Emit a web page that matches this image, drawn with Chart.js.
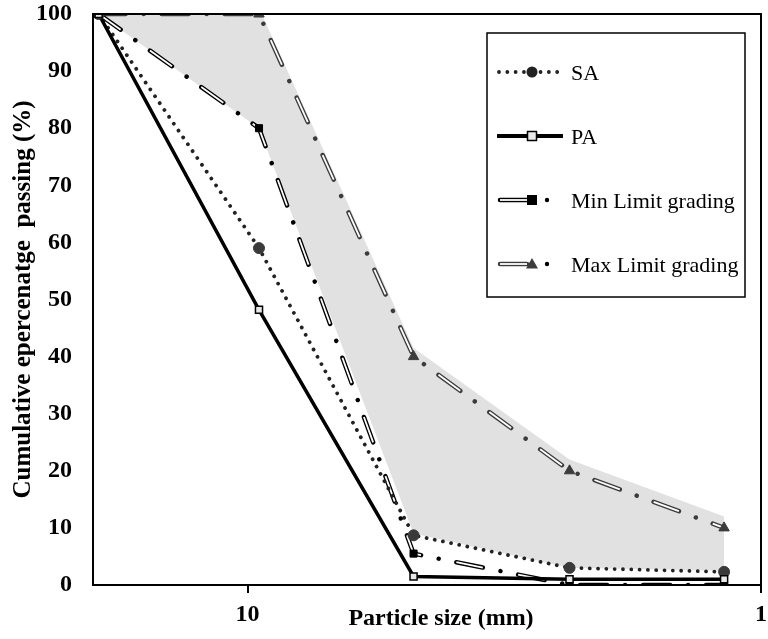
<!DOCTYPE html>
<html><head><meta charset="utf-8">
<script src="https://cdn.jsdelivr.net/npm/chart.js@4.4.0/dist/chart.umd.min.js"></script>
<style>html,body{margin:0;padding:0;background:#fff;}#wrap{width:768px;height:639px;position:relative;}</style>
</head><body><div id="wrap"><canvas id="c" width="768" height="639"></canvas></div>
<script>
const sizes = [19.5, 9.5, 4.75, 2.36, 1.18];
const saValues = [100, 59, 8.7, 3, 2.3];
const paValues = [100, 48.2, 1.5, 1, 1];
const minLimit = [100, 80, 5.5, 0, 0];
const maxLimit = [100, 100, 40, 20, 10];
const shadeUpper = [101, 101, 41.5, 22, 12];
const shadeLower = [100, 80, 9, 3, 2.5];
const xTicks = [10, 1];
const seriesNames = ['SA', 'PA', 'Min Limit grading', 'Max Limit grading'];
const xTitle = 'Particle size (mm)';
const yTitle = 'Cumulative epercenatge  passing (%)';

const FONT = 'Liberation Serif';
const pts = arr => sizes.map((x, i) => ({x: x, y: arr[i]}));
const DASH_OUT = [27, 18, 0.01, 18];
const DASH_IN = [27, 36.01];

const base = {pointRadius: 0, pointHoverRadius: 0, tension: 0, fill: false};

const datasets = [
  Object.assign({}, base, {label: 'shadeUpper', data: pts(shadeUpper), borderWidth: 0, borderColor: 'rgba(0,0,0,0)', backgroundColor: '#e1e1e1', fill: '+1', order: 100}),
  Object.assign({}, base, {label: 'shadeLower', data: pts(shadeLower), borderWidth: 0, borderColor: 'rgba(0,0,0,0)', order: 101}),
  // Max limit
  Object.assign({}, base, {label: seriesNames[3], data: pts(maxLimit), borderColor: '#3c3c3c', borderWidth: 4.5, borderDash: DASH_OUT, borderCapStyle: 'round', order: 60}),
  Object.assign({}, base, {label: seriesNames[3] + ' in', data: pts(maxLimit), borderColor: '#ffffff', borderWidth: 1.8, borderDash: DASH_IN, borderCapStyle: 'butt', order: 59}),
  // Min limit
  Object.assign({}, base, {label: seriesNames[2], data: pts(minLimit), borderColor: '#000', borderWidth: 4.5, borderDash: DASH_OUT, borderCapStyle: 'round', order: 58}),
  Object.assign({}, base, {label: seriesNames[2] + ' in', data: pts(minLimit), borderColor: '#ffffff', borderWidth: 1.8, borderDash: DASH_IN, borderCapStyle: 'butt', order: 57}),
  // SA
  Object.assign({}, base, {label: seriesNames[0], data: pts(saValues), borderColor: '#222', borderWidth: 3.8, borderDash: [0.01, 8.3], borderCapStyle: 'round', order: 56}),
  // PA
  Object.assign({}, base, {label: seriesNames[1], data: pts(paValues), borderColor: '#000', borderWidth: 3.5, order: 55}),
  // markers
  Object.assign({}, base, {label: 'max pts', data: pts(maxLimit), showLine: false, pointStyle: 'triangle', pointRadius: 6, backgroundColor: '#3c3c3c', borderColor: '#3c3c3c', pointBorderWidth: 1, order: 10}),
  Object.assign({}, base, {label: 'min pts', data: pts(minLimit), showLine: false, pointStyle: 'rect', pointRadius: 5, backgroundColor: '#000', borderColor: '#000', pointBorderWidth: 1, order: 9}),
  Object.assign({}, base, {label: 'sa pts', data: pts(saValues), showLine: false, pointStyle: 'circle', pointRadius: 5.5, backgroundColor: '#3a3a3a', borderColor: '#3a3a3a', pointBorderWidth: 1, order: 8}),
  Object.assign({}, base, {label: 'pa pts', data: pts(paValues), showLine: false, pointStyle: 'rect', pointRadius: 5, backgroundColor: '#e8e8e8', borderColor: '#000', pointBorderWidth: 1.5, order: 7})
];

function dotted(ctx, x1, x2, y, color, w, gap) {
  ctx.save(); ctx.strokeStyle = color; ctx.lineWidth = w; ctx.lineCap = 'round';
  ctx.setLineDash([0.01, gap]); ctx.beginPath(); ctx.moveTo(x1, y); ctx.lineTo(x2, y); ctx.stroke(); ctx.restore();
}
function hollow(ctx, x1, x2, y, color) {
  ctx.save(); ctx.lineCap = 'round'; ctx.strokeStyle = color; ctx.lineWidth = 4.5;
  ctx.beginPath(); ctx.moveTo(x1, y); ctx.lineTo(x2, y); ctx.stroke();
  ctx.lineCap = 'butt'; ctx.strokeStyle = '#fff'; ctx.lineWidth = 1.8;
  ctx.beginPath(); ctx.moveTo(x1, y); ctx.lineTo(x2, y); ctx.stroke(); ctx.restore();
}
function dot(ctx, x, y, r, color) {
  ctx.save(); ctx.fillStyle = color; ctx.beginPath(); ctx.arc(x, y, r, 0, Math.PI * 2); ctx.fill(); ctx.restore();
}

const decor = {
  id: 'decor',
  afterDraw(chart) {
    const ctx = chart.ctx, a = chart.chartArea;
    ctx.save();
    ctx.strokeStyle = '#000'; ctx.lineWidth = 2;
    ctx.strokeRect(a.left, a.top, a.right - a.left, a.bottom - a.top);
    // x title
    ctx.fillStyle = '#000'; ctx.font = 'bold 24px "' + FONT + '"';
    ctx.textAlign = 'center'; ctx.textBaseline = 'middle';
    ctx.fillText(xTitle, 441, 619);
    // legend box
    ctx.fillStyle = '#fff'; ctx.fillRect(487, 33, 258, 264);
    ctx.lineWidth = 1.5; ctx.strokeStyle = '#000'; ctx.strokeRect(487, 33, 258, 264);
    const rows = [72, 136, 200, 264];
    // SA
    dotted(ctx, 499, 560, rows[0], '#222', 3.8, 8.3);
    dot(ctx, 532, rows[0], 5.5, '#222');
    // PA
    ctx.strokeStyle = '#000'; ctx.lineWidth = 4; ctx.beginPath(); ctx.moveTo(497, rows[1]); ctx.lineTo(563, rows[1]); ctx.stroke();
    ctx.fillStyle = '#e8e8e8'; ctx.fillRect(527.5, rows[1] - 4.5, 9, 9);
    ctx.lineWidth = 1.5; ctx.strokeRect(527.5, rows[1] - 4.5, 9, 9);
    // Min
    hollow(ctx, 500, 527, rows[2], '#000');
    ctx.fillStyle = '#000'; ctx.fillRect(527, rows[2] - 5, 10, 10);
    dot(ctx, 547, rows[2], 2.2, '#000');
    // Max
    hollow(ctx, 500, 527, rows[3], '#3c3c3c');
    ctx.fillStyle = '#3c3c3c'; ctx.beginPath();
    ctx.moveTo(532, rows[3] - 6); ctx.lineTo(538, rows[3] + 4.5); ctx.lineTo(526, rows[3] + 4.5); ctx.closePath(); ctx.fill();
    dot(ctx, 547, rows[3], 2.2, '#000');
    // texts
    ctx.fillStyle = '#000'; ctx.font = '22px "' + FONT + '"';
    ctx.textAlign = 'left'; ctx.textBaseline = 'alphabetic';
    seriesNames.forEach((n, i) => ctx.fillText(n, 571, rows[i] + 7.5));
    ctx.restore();
  }
};

Chart.defaults.font.family = FONT;
new Chart(document.getElementById('c'), {
  type: 'line',
  data: {datasets: datasets},
  options: {
    responsive: false, animation: false, devicePixelRatio: 1,
    layout: {padding: {top: 14, right: 4, left: 0, bottom: 0}},
    plugins: {legend: {display: false}, tooltip: {enabled: false}},
    scales: {
      x: {
        type: 'logarithmic', reverse: true, min: 1, max: 20,
        afterBuildTicks: s => { s.ticks = xTicks.map(v => ({value: v})); },
        afterFit: s => { s.height = 54; s.paddingLeft = 0; s.paddingRight = 0; },
        ticks: {autoSkip: false, maxRotation: 0, padding: 7, color: '#000',
          font: {family: FONT, size: 24, weight: 'bold'}, callback: v => String(v)},
        grid: {display: true, drawOnChartArea: false, drawTicks: true, tickLength: 8, color: '#000', lineWidth: 2},
        border: {display: false}
      },
      y: {
        min: 0, max: 100,
        afterFit: s => { s.width = 93; s.paddingTop = 0; s.paddingBottom = 0; },
        ticks: {stepSize: 10, padding: 21, color: '#000', font: {family: FONT, size: 24, weight: 'bold'}},
        grid: {display: false, drawTicks: false},
        border: {display: false},
        title: {display: true, text: yTitle, color: '#000', font: {family: FONT, size: 25, weight: 'bold'}, padding: {top: 9, bottom: 0}}
      }
    }
  },
  plugins: [decor]
});
</script></body></html>
